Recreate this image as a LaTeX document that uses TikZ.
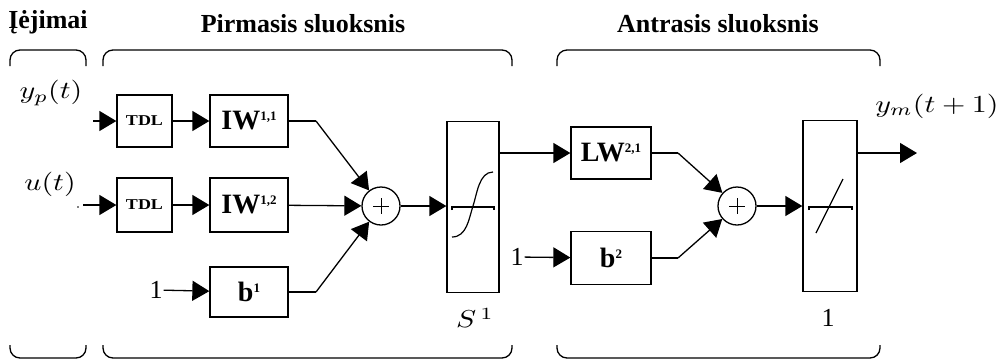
\documentclass[tikz,border=0pt]{standalone}
\usepackage{fontspec}
\setmainfont{Liberation Serif}
\usetikzlibrary{arrows.meta}
\newcommand{\titlefont}{\fontsize{26}{28}\selectfont\bfseries}
\newcommand{\wfont}{\fontsize{28}{30}\selectfont\bfseries}
\newcommand{\supfont}{\fontsize{13}{14}\selectfont\bfseries}
\newcommand{\numfont}{\fontsize{26}{28}\selectfont}
\newcommand{\mlab}[1]{\scalebox{3.0}[2.45]{$#1$}}
\newcommand{\tdlfont}{\scalebox{1.2}[1]{\fontsize{15}{16}\selectfont\bfseries TDL}}
\newcommand{\wsup}[2]{#1\raisebox{9pt}{\supfont #2}}
\begin{document}
\begin{tikzpicture}[x=1pt,y=-1pt,
  wire/.style={line width=1.3pt},
  arr/.style={wire,-{Triangle[length=17pt,width=20pt]}},
  blk/.style={draw,line width=1.3pt,inner sep=0pt,minimum width=78pt,minimum height=52pt},
  tdlbox/.style={blk,minimum width=55pt},
  tall/.style={draw,line width=1.3pt,inner sep=0pt,minimum width=52pt,minimum height=171pt},
  sumnode/.style={circle,draw,line width=1.3pt,minimum size=38pt,inner sep=0pt},
  brace/.style={line width=1.3pt,rounded corners=10pt},
  lab/.style={inner sep=1pt}]
\useasboundingbox (0,0) rectangle (1003,360);

% group titles
\node[lab] (tin) at (48,22) {\titlefont Įėjimai};
\node[lab] (tl1) at (303,24) {\titlefont Pirmasis sluoksnis};
\node[lab] (tl2) at (718,24) {\titlefont Antrasis sluoksnis};

% brackets above and below each group
\draw[brace] (10,66) -- (10,50) -- (86,50) -- (86,66);
\draw[brace] (103,66) -- (103,50) -- (512,50) -- (512,66);
\draw[brace] (557,66) -- (557,50) -- (880,50) -- (880,66);
\draw[brace] (10,345) -- (10,358) -- (86,358) -- (86,345);
\draw[brace] (103,345) -- (103,358) -- (512,358) -- (512,345);
\draw[brace] (557,345) -- (557,358) -- (880,358) -- (880,345);

% inputs
\node[lab] (yp) at (51,93) {\mlab{y_p(t)}};
\node[lab] (ut) at (50,184) {\mlab{u(t)}};
\coordinate (in1) at (93,121);
\coordinate (in2) at (83,205);
\fill (78,207) circle (0.9pt);

% first layer
\node[tdlbox] (tdl1) at (144.5,121) {\tdlfont};
\node[blk] (iw11) at (249,121) {\wfont\wsup{IW}{1,1}};
\node[tdlbox,minimum height=54pt] (tdl2) at (144.5,205) {\tdlfont};
\node[blk,minimum height=54pt] (iw12) at (249,205) {\wfont\wsup{IW}{1,2}};
\node[lab] (one1) at (156,290) {\numfont 1};
\node[blk,minimum height=50pt] (b1) at (249,292) {\wfont\wsup{b}{1}};
\node[sumnode] (sum1) at (381,206) {};
\node[tall] (s1) at (473,207) {};
\node[lab] (s1lab) at (475,318) {\mlab{S^{\,1}}};
\coordinate (k1) at (316,121);
\coordinate (k3) at (316,292);

% second layer
\node[blk,minimum width=80pt] (lw) at (611,153) {\wfont\wsup{LW}{2,1}};
\node[lab] (one2) at (517,257) {\numfont 1};
\node[blk,minimum width=80pt,minimum height=53pt] (b2) at (611,258) {\wfont\wsup{b}{2}};
\node[sumnode] (sum2) at (737,206) {};
\node[tall,minimum width=54pt] (lin) at (830,206) {};
\node[lab] (linlab) at (828,318) {\numfont 1};
\coordinate (k4) at (678,153);
\coordinate (k5) at (678,258);
\coordinate (out) at (917,153);
\node[lab] (ym) at (937,106) {\mlab{y_m(t+1)}};

% plus signs in the summing junctions
\draw[line width=0.9pt] (sum1.center) ++(-8,0) -- ++(16,0) (sum1.center) ++(0,-8) -- ++(0,16);
\draw[line width=0.9pt] (sum2.center) ++(-8,0) -- ++(16,0) (sum2.center) ++(0,-8) -- ++(0,16);

% transfer functions
\draw[line width=1.1pt] (452,210) -- (452,207) -- (494,207) -- (494,210);
\draw[line width=1.2pt] (452,237) .. controls (467,237) and (469,218) .. (473,206)
  .. controls (477,194) and (479,172) .. (493,172);
\draw[line width=1.1pt] (809,210) -- (809,207) -- (852,207) -- (852,210);
\draw[line width=1.2pt] (816,233) -- (843,179);

% connections, first layer
\draw[arr] (in1) -- (tdl1.west);
\draw[arr] (tdl1) -- (iw11);
\draw[arr] (in2) -- (tdl2.west);
\draw[arr] (tdl2) -- (iw12);
\draw[arr] (one1) -- (b1);
\draw[wire] (iw11.east) -- (k1);
\draw[arr] (k1) -- (sum1);
\draw[arr] (iw12) -- (sum1);
\draw[wire] (b1.east) -- (k3);
\draw[arr] (k3) -- (sum1);
\draw[arr] (sum1) -- (sum1 -| s1.west);

% connections, second layer
\draw[arr] (s1.east |- lw.west) -- (lw.west);
\draw[arr] (one2) -- (b2);
\draw[wire] (lw.east) -- (k4);
\draw[arr] (k4) -- (sum2);
\draw[wire] (b2.east) -- (k5);
\draw[arr] (k5) -- (sum2);
\draw[arr] (sum2) -- (sum2 -| lin.west);
\draw[arr] (lin.east |- out) -- (out);
\end{tikzpicture}
\end{document}
